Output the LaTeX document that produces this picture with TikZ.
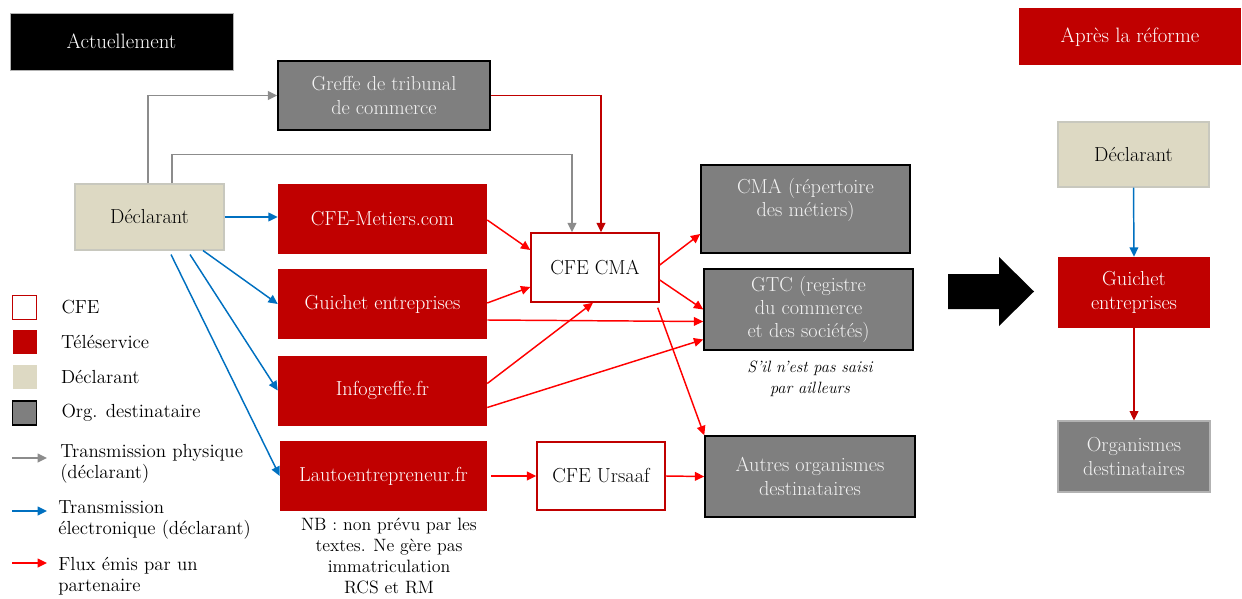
\documentclass[tikz,border=0pt]{standalone}
\definecolor{teleRed}{RGB}{192,0,0}
\definecolor{orgGray}{RGB}{127,127,127}
\definecolor{declBeige}{RGB}{221,217,195}
\definecolor{declEdge}{RGB}{200,200,190}
\definecolor{physGray}{RGB}{140,140,140}
\definecolor{elecBlue}{RGB}{0,112,192}
\definecolor{partRed}{RGB}{255,0,0}
\definecolor{paleText}{RGB}{242,242,242}
\usepackage{tikz}
\usetikzlibrary{arrows.meta, positioning, calc}

\begin{document}
\begin{tikzpicture}[
      x=0.75pt, y=-0.75pt,
      base/.style={inner sep=0pt, align=center,
                   font=\fontsize{15.2}{17.5}\selectfont},
      titlebox/.style={base, fill=black, text=white, draw=gray!60,
                   minimum width=167pt, minimum height=42.75pt,
                   font=\fontsize{15.6}{17.5}\selectfont},
      telebox/.style={base, fill=teleRed, text=white,
                   minimum width=156.75pt, minimum height=52.5pt},
      cfebox/.style={base, fill=white, draw=teleRed, line width=1.1pt,
                   minimum width=96pt, minimum height=51.75pt},
      declbox/.style={base, fill=declBeige, draw=declEdge, line width=0.8pt,
                   minimum width=111.75pt, minimum height=49.5pt},
      orgbox/.style={base, fill=orgGray, text=paleText, draw=black, line width=1.1pt,
                   minimum width=156.75pt, minimum height=60.75pt},
      legsq/.style={minimum size=18pt, inner sep=0pt},
      legtext/.style={inner sep=0pt, anchor=west, align=left,
                   font=\fontsize{14.2}{15.75}\selectfont},
      note/.style={inner sep=0pt, align=center,
                   font=\fontsize{13.4}{15.75}\selectfont},
      tip/.style={-{Triangle[length=7pt,width=6.5pt]}, line width=1.1pt},
      physarrow/.style={tip, color=physGray},
      elecarrow/.style={tip, color=elecBlue},
      partarrow/.style={tip, color=partRed},
      tribarrow/.style={tip, color=teleRed},
  ]
    \useasboundingbox (0,0) rectangle (1242,599);

    % titles
    \node[titlebox] (now)   at (121.5,41.5) {Actuellement};
    \node[titlebox, fill=teleRed, draw=none] (after) at (1130,37) {Après la réforme};

    % current situation
    \node[orgbox, minimum width=159pt, minimum height=51.75pt] (greffe) at (384,95.5)
         {Greffe de tribunal\\de commerce};
    \node[declbox] (decl) at (149.5,217) {Déclarant};
    \node[telebox] (metiers) at (382.5,219)   {CFE-Metiers.com};
    \node[telebox] (guichet) at (382.5,304)   {Guichet entreprises};
    \node[telebox] (infog)   at (382.5,390.5) {Infogreffe.fr};
    \node[telebox, minimum width=155.25pt] (lauto) at (383.5,476) {Lautoentrepreneur.fr};
    \node[cfebox] (cfecma) at (595,267.5) {CFE CMA};
    \node[cfebox, minimum height=51pt] (ursaaf) at (601,476) {CFE Ursaaf};
    \node[orgbox, minimum height=66pt] (cma) at (805.5,209)
         {CMA (répertoire\\des métiers)\\~};
    \node[orgbox] (gtc) at (808.5,309.5)
         {GTC (registre\\du commerce\\et des sociétés)};
    \node[orgbox, minimum width=157.5pt] (autres) at (810,476.5)
         {Autres organismes\\destinataires};

    \node[note, font=\itshape\fontsize{12.3}{15.75}\selectfont] (saisi) at (810,378.5)
         {S’il n’est pas saisi\\par ailleurs};
    \node[note] (nb) at (389,555.5)
         {NB : non prévu par les\\textes. Ne gère pas\\immatriculation\\RCS et RM};

    % physical flows
    \draw[physarrow] ($(decl.north)+(-1.5,0)$) |- (greffe.west);
    \draw[physarrow] ($(decl.north)+(22.5,0)$) |- ($(cfecma.north)+(-23,-78)$)
                     -- ($(cfecma.north)+(-23,0)$);
    \draw[tribarrow] (greffe.east) -| ($(cfecma.north)+(6,0)$);

    % electronic flows
    \draw[elecarrow] (decl.east) -- (metiers.west |- decl.east);
    \draw[elecarrow] ($(decl.south)+(53.5,0)$) -- (guichet.west);
    \draw[elecarrow] ($(decl.south)+(40.5,4)$) -- (infog.west);
    \draw[elecarrow] ($(decl.south)+(21.5,4)$) -- (lauto.west);

    % partner flows
    \draw[partarrow] ($(metiers.east)+(0,1)$)  -- ($(cfecma.west)+(0,-17.5)$);
    \draw[partarrow] ($(guichet.east)+(0,-1)$) -- ($(cfecma.west)+(0,19.5)$);
    \draw[partarrow] ($(guichet.east)+(0,16)$) -- ($(gtc.west)+(0,12)$);
    \draw[partarrow] ($(infog.east)+(0,-7)$)   -- ($(cfecma.south)+(-2,0)$);
    \draw[partarrow] ($(infog.east)+(0,17)$)   -- ($(gtc.west)+(0,30)$);
    \draw[partarrow] ($(cfecma.east)+(0,-2.5)$) -- ($(cma.west)+(0,25)$);
    \draw[partarrow] ($(cfecma.east)+(0,12.5)$) -- (gtc.west);
    \draw[partarrow] ($(cfecma.south east)+(-2,5)$) -- (autres.north west);
    \draw[partarrow] ($(lauto.east)+(4,0)$) -- (ursaaf.west);
    \draw[partarrow] (ursaaf.east) -- (autres.west);

    % after the reform
    \fill (948,274) -- (999,274) -- (999,257) -- (1034,291.5)
          -- (999,326) -- (999,309) -- (948,309) -- cycle;
    \node[declbox, minimum width=113.25pt, minimum height=48.75pt] (rdecl) at (1133.5,154.5) {Déclarant};
    \node[telebox, minimum width=114pt, minimum height=53.25pt] (rguichet) at (1134,292.5)
         {Guichet\\entreprises};
    \node[orgbox, draw=gray!60, line width=0.8pt, minimum width=114pt, minimum height=53.25pt]
         (rorg) at (1134,456.5) {Organismes\\destinataires};
    \draw[elecarrow] (rdecl.south) -- (rguichet.north);
    \draw[tribarrow] (rguichet.south) -- (rorg.north);

    % legend
    \node[legsq, draw=teleRed, line width=1.1pt, fill=white] (legcfe) at (24.5,307.5) {};
    \node[legsq, fill=teleRed] (legtele) at (24.5,342) {};
    \node[legsq, fill=declBeige] (legdecl) at (24.5,376.5) {};
    \node[legsq, fill=orgGray, draw=black, line width=1.1pt] (legorg) at (24.5,413) {};
    \node[legtext, right=18pt of legcfe]  (tcfe)  {CFE};
    \node[legtext, right=18pt of legtele] (ttele) {Téléservice};
    \node[legtext, right=18pt of legdecl] (tdecl) {Déclarant};
    \node[legtext, right=18pt of legorg]  (torg)  {Org. destinataire};

    \coordinate (physA) at (12,458);  \coordinate (physB) at (47,458);
    \coordinate (elecA) at (12,511);  \coordinate (elecB) at (47,511);
    \coordinate (partA) at (12,563);  \coordinate (partB) at (47,563);
    \draw[physarrow] (physA) -- (physB);
    \draw[elecarrow] (elecA) -- (elecB);
    \draw[partarrow] (partA) -- (partB);
    \node[legtext] (tphys) at (60,463.5) {Transmission physique\\(déclarant)};
    \node[legtext] (telec) at (58,519.5) {Transmission\\électronique (déclarant)};
    \node[legtext] (tpart) at (58,576.5) {Flux émis par un\\partenaire};

  \end{tikzpicture}
\end{document}
